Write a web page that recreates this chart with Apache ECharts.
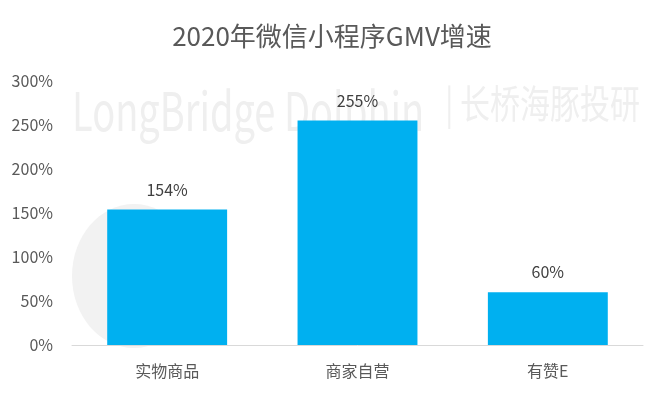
<!DOCTYPE html>
<html><head><meta charset="utf-8">
<script src="https://cdn.jsdelivr.net/npm/echarts@6/dist/echarts.min.js"></script>
<style>html,body{margin:0;padding:0;background:#fff}#c{width:664px;height:398px}</style>
</head><body><div id="c"></div>
<script>
const categories = ['实物商品', '商家自营', '有赞E'];
const growth = [154, 255, 60];
const yTicks = [0, 50, 100, 150, 200, 250, 300];
const titleText = '2020年微信小程序GMV增速';
const watermarkLatin = 'LongBridge Dolphin';
const watermarkCJK = '| 长桥海豚投研';

const font = '"Noto Sans CJK SC", "Microsoft YaHei", sans-serif';
const chart = echarts.init(document.getElementById('c'));
chart.setOption({
  backgroundColor: '#fff',
  animation: false,
  title: { text: titleText, left: 'center', top: 18, textStyle: { fontFamily: font, fontSize: 26, fontWeight: 'normal', color: '#595959' } },
  graphic: [
    { type: 'ellipse', shape: { cx: 134, cy: 276, rx: 62, ry: 72 }, style: { fill: '#f2f2f2' }, z: -1 },
    { type: 'text', x: 72, y: 84, scaleY: 1.4, style: { text: watermarkLatin, fontFamily: font, fontSize: 38, fill: '#efefef', textBaseline: 'alphabetic' }, z: -1 },
    { type: 'text', x: 640, y: 84, scaleY: 1.3, style: { text: watermarkCJK, fontFamily: font, fontSize: 30, fill: '#efefef', textAlign: 'right', textBaseline: 'alphabetic' }, z: -1 }
  ],
  grid: { left: 72, right: 21, top: 81, bottom: 53, containLabel: false },
  xAxis: {
    type: 'category', data: categories,
    axisLine: { lineStyle: { color: '#d9d9d9', width: 1 } },
    axisTick: { show: false },
    axisLabel: { fontFamily: font, fontSize: 16, color: '#595959', margin: 18 }
  },
  yAxis: {
    type: 'value', min: yTicks[0], max: yTicks[yTicks.length - 1], interval: 50,
    splitLine: { show: false }, axisLine: { show: false }, axisTick: { show: false },
    axisLabel: { fontFamily: font, fontSize: 16, color: '#595959', margin: 19, formatter: v => v + '%' }
  },
  series: [{
    type: 'bar', data: growth, barWidth: '63%',
    itemStyle: { color: '#00B0F0' },
    label: { show: true, position: 'top', distance: 12, fontFamily: font, fontSize: 16, color: '#404040', formatter: p => p.value + '%' }
  }]
});
</script></body></html>
